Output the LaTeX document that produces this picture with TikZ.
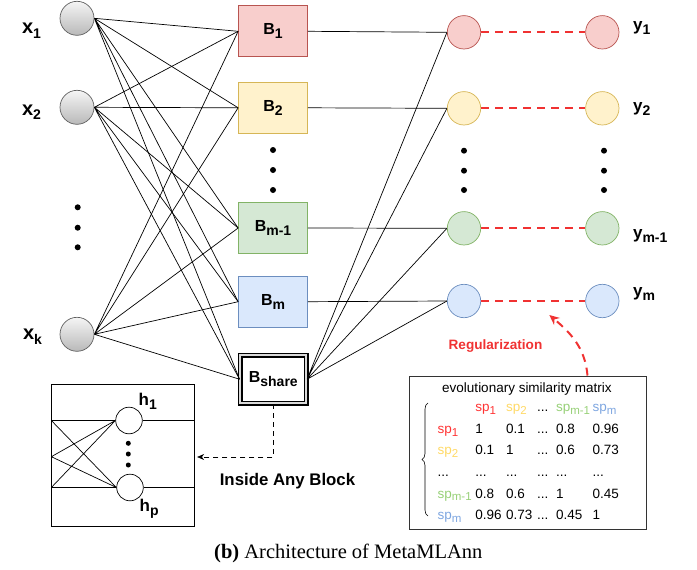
\documentclass[tikz,border=0pt]{standalone}
\usepackage{fontspec}
\setmainfont{Liberation Sans}
\newfontfamily\capfont{Liberation Serif}
\usepackage{graphicx}
\usetikzlibrary{arrows.meta, decorations.pathreplacing}

\definecolor{redfill}{HTML}{F8CECC}
\definecolor{redline}{HTML}{B85450}
\definecolor{yelfill}{HTML}{FFF2CC}
\definecolor{yelline}{HTML}{D6B656}
\definecolor{grnfill}{HTML}{D5E8D4}
\definecolor{grnline}{HTML}{82B366}
\definecolor{blufill}{HTML}{DAE8FC}
\definecolor{bluline}{HTML}{6C8EBF}
\definecolor{regred}{HTML}{F03232}
\definecolor{spred}{HTML}{FF3333}
\definecolor{spyel}{HTML}{FFD966}
\definecolor{spgrn}{HTML}{97D077}
\definecolor{spblu}{HTML}{7EA6E0}

% lowered index for the bold labels and for the matrix
\newcommand{\lo}[1]{\raisebox{-0.45ex}{\fontsize{14}{14}\selectfont #1}}
\newcommand{\los}[1]{\raisebox{-0.4ex}{\fontsize{11.5}{12}\selectfont #1}}
\newcommand{\spn}[2]{\leavevmode{\color{#1}sp\los{#2}}}

\begin{document}
\begin{tikzpicture}[x=1pt, y=-1pt, line width=0.7pt]

    \useasboundingbox (0,0) rectangle (697,570);

    %styles
    \tikzstyle{xin}=[circle, draw=gray!75!black, top color=gray!8, bottom color=gray!55, minimum size=34pt, inner sep=0pt]
    \tikzstyle{block}=[rectangle, minimum width=69pt, minimum height=51pt, inner sep=0pt, font={\fontsize{16}{18}\selectfont\bfseries}]
    \tikzstyle{sharebox}=[rectangle, draw=black, line width=1.6pt, double=gray!30, double distance=1.8pt, minimum width=66pt, minimum height=48pt, inner sep=0pt, font={\fontsize{16}{18}\selectfont\bfseries}]
    \tikzstyle{outnode}=[circle, minimum size=33.4pt, inner sep=0pt]
    \tikzstyle{hid}=[circle, draw=black, fill=white, minimum size=26.6pt, inner sep=0pt]
    \tikzstyle{lbl}=[anchor=base west, inner sep=0pt, font={\fontsize{17}{18}\selectfont\bfseries}]
    \tikzstyle{reg}=[draw=regred, line width=2pt, dash pattern=on 8pt off 6pt]

    % inputs
    \node[xin] (x1) at (77,18.3) {};
    \node[xin] (x2) at (77,107.3) {};
    \node[xin] (xk) at (77,334.3) {};
    \node[lbl, font={\fontsize{20}{20}\selectfont\bfseries}] (lx1) at (21.7,33.3) {x\lo{1}};
    \node[lbl, font={\fontsize{20}{20}\selectfont\bfseries}] (lx2) at (21.7,115) {x\lo{2}};
    \node[lbl, font={\fontsize{20}{20}\selectfont\bfseries}] (lxk) at (22.7,339.3) {x\lo{k}};

    % blocks
    \node[block, fill=redfill, draw=redline] (b1) at (273,31.3) {B\lo{1}};
    \node[block, fill=yelfill, draw=yelline] (b2) at (273,107.8) {B\lo{2}};
    \node[block, fill=grnfill, draw=grnline] (bm1) at (273,228) {B\lo{m-1}};
    \node[block, fill=blufill, draw=bluline] (bm) at (273,301.7) {B\lo{m}};
    \node[sharebox, fill=white] (bs) at (273.3,379.2) {B\lo{share}};

    % outputs
    \node[outnode, fill=redfill, draw=redline] (o1) at (464,32.3) {};
    \node[outnode, fill=yelfill, draw=yelline] (o2) at (464,108.3) {};
    \node[outnode, fill=grnfill, draw=grnline] (om1) at (464,228.3) {};
    \node[outnode, fill=blufill, draw=bluline] (om) at (464,301) {};
    \node[outnode, fill=redfill, draw=redline] (y1) at (602.3,32.3) {};
    \node[outnode, fill=yelfill, draw=yelline] (y2) at (602.3,108.3) {};
    \node[outnode, fill=grnfill, draw=grnline] (ym1) at (602.3,228.3) {};
    \node[outnode, fill=blufill, draw=bluline] (ym) at (602.3,301) {};
    \node[lbl] (ly1) at (632.7,30.5) {y\lo{1}};
    \node[lbl] (ly2) at (632.7,111) {y\lo{2}};
    \node[lbl] (lym1) at (632.7,238.4) {y\lo{m-1}};
    \node[lbl] (lym) at (632.7,296) {y\lo{m}};

    % dots
    \fill (77.7,207.3) circle (3pt) (77.7,227.7) circle (3pt) (77.7,247.3) circle (3pt);
    \fill (273,150) circle (3pt) (273,170) circle (3pt) (273,190) circle (3pt);
    \fill (464,150.7) circle (3pt) (464,170.7) circle (3pt) (464,190) circle (3pt);
    \fill (604,150.7) circle (3pt) (604,170.7) circle (3pt) (604,190) circle (3pt);

    % input -> blocks
    \draw (x1.east) -- (b1.west) (x1.east) -- (b2.west) (x1.east) -- (bm1.west) (x1.east) -- (bm.west) (x1.east) -- (bs.west);
    \draw (x2.east) -- (b1.west) (x2.east) -- (b2.west) (x2.east) -- (bm1.west) (x2.east) -- (bm.west) (x2.east) -- (bs.west);
    \draw (xk.east) -- (b1.west) (xk.east) -- (b2.west) (xk.east) -- (bm1.west) (xk.east) -- (bm.west) (xk.east) -- (bs.west);

    % blocks -> outputs
    \draw (b1.east) -- (o1.west) (b2.east) -- (o2.west) (bm1.east) -- (om1.west) (bm.east) -- (om.west);
    \draw (bs.east) -- (o1.west) (bs.east) -- (o2.west) (bs.east) -- (om1.west) (bs.east) -- (om.west);

    % outputs -> y
    \draw[reg] (o1.east) -- (y1.west);
    \draw[reg] (o2.east) -- (y2.west);
    \draw[reg] (om1.east) -- (ym1.west);
    \draw[reg] (om.east) -- (ym.west);

    % inside any block
    \node[draw, minimum width=142.6pt, minimum height=142.4pt, inner sep=0pt] (hbox) at (123,455.5) {};
    \node[hid] (h1) at (129,420.5) {};
    \node[hid] (hp) at (130,487.5) {};
    \node[lbl] (lh1) at (138.3,405) {h\lo{1}};
    \node[lbl] (lhp) at (139.3,511) {h\lo{p}};
    \coordinate (i1) at (hbox.west |- h1);
    \coordinate (i2) at ([yshift=-1.2pt]hbox.west);
    \coordinate (i3) at (hbox.west |- hp);
    \draw (i1) -- (h1.west) (i1) -- (hp.west) (i2) -- (h1.west) (i2) -- (hp.west) (i3) -- (h1.west) (i3) -- (hp.west);
    \draw (h1.east) -- (hbox.east |- h1) (hp.east) -- (hbox.east |- hp);
    \fill (128.3,443.3) circle (2.5pt) (128.3,454) circle (2.5pt) (128.3,465) circle (2.5pt);
    \draw[dash pattern=on 5pt off 4pt, -{Stealth[length=7pt, width=6pt]}] (bs.south) |- ([xshift=2.5pt, yshift=-1.5pt]hbox.east);
    \node[font={\fontsize{16.8}{18}\selectfont\bfseries}] (linside) at (287.5,481) {Inside Any Block};

    % similarity matrix
    \node[draw=black!80, line width=0.9pt, minimum width=237pt, minimum height=153pt, inner sep=0pt] (mbox) at (527.5,452.5) {};
    \node[anchor=base, inner sep=0pt, font={\fontsize{13.5}{14}\selectfont}] (mtitle) at (527,392.7) {evolutionary similarity matrix};
    \node[anchor=base west, inner sep=0pt, font={\fontsize{13.5}{21.6}\selectfont}] (mtab) at (437.3,411.7) {%
      \begin{tabular}[t]{@{}p{37.7pt}@{}p{30.7pt}@{}p{31pt}@{}p{19pt}@{}p{36.6pt}@{}l@{}}
        & \spn{spred}{1} & \spn{spyel}{2} & ... & \spn{spgrn}{m-1} & \spn{spblu}{m}\\
        \spn{spred}{1} & 1 & 0.1 & ... & 0.8 & 0.96\\
        \spn{spyel}{2} & 0.1 & 1 & ... & 0.6 & 0.73\\
        ... & ... & ... & ... & ... & ...\\
        \spn{spgrn}{m-1} & 0.8 & 0.6 & ... & 1 & 0.45\\
        \spn{spblu}{m} & 0.96 & 0.73 & ... & 0.45 & 1
      \end{tabular}};
    \draw[line width=0.6pt, decorate, decoration={brace, amplitude=6pt}] (428,516) -- (428,403);

    % regularization
    \node[font={\fontsize{13.6}{15}\selectfont\bfseries}, text=regred] (lreg) at (495.5,346) {Regularization};
    \coordinate (rs) at ([xshift=60pt]mbox.north);
    \coordinate (re) at (549.3,315);
    \draw[reg, -{Stealth[length=10pt, width=9pt]}] (rs) to[out=95, in=-40] (re);

    % caption
    \node[anchor=base, inner sep=0pt, font={\capfont\fontsize{20.5}{22}\selectfont}] (caption) at (348.3,558) {\textbf{(b)} Architecture of MetaMLAnn};

\end{tikzpicture}
\end{document}
